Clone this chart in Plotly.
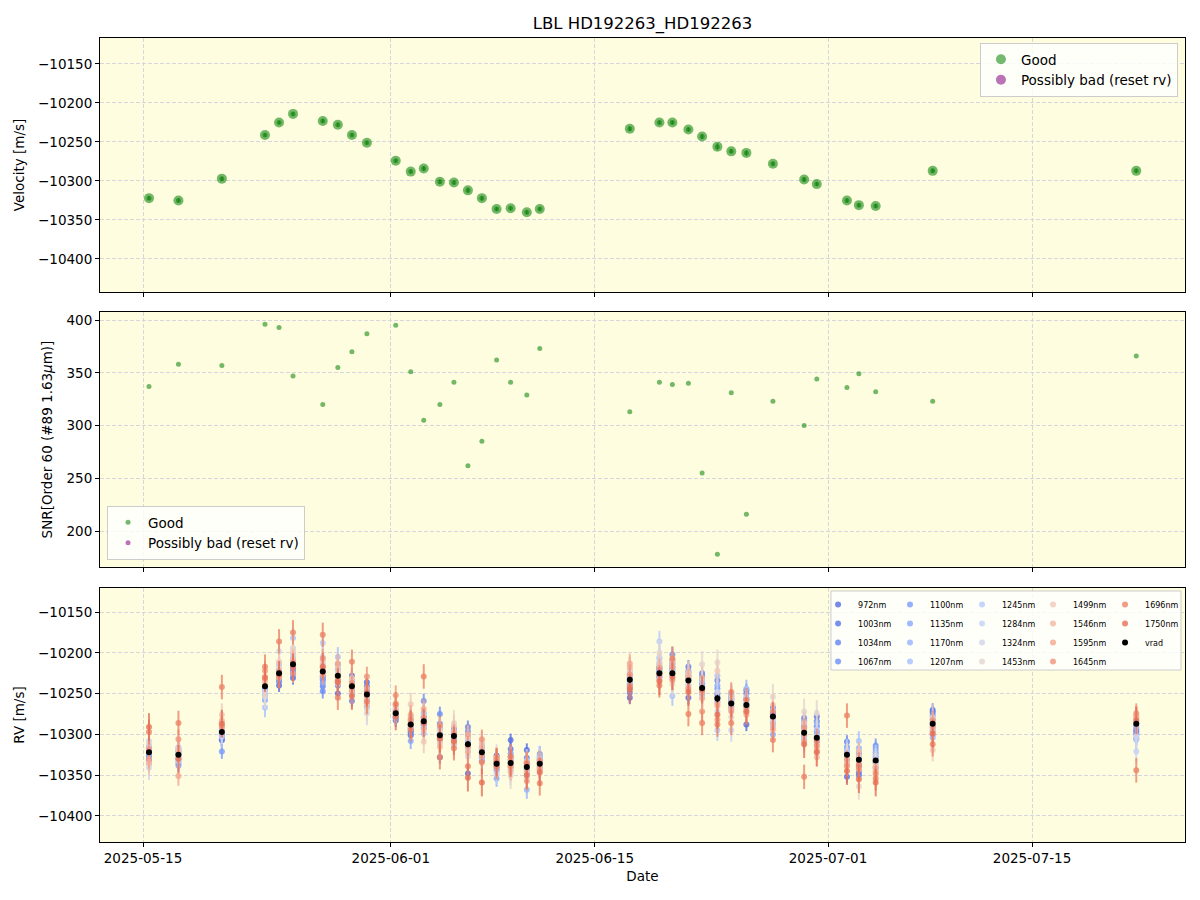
import plotly.graph_objects as go
from plotly.subplots import make_subplots

# ---------------- data ----------------
dates = ["2025-05-15 09:50", "2025-05-17 10:20", "2025-05-20 09:50", "2025-05-23 08:50",
         "2025-05-24 08:00", "2025-05-25 07:00", "2025-05-27 08:00", "2025-05-28 08:50",
         "2025-05-29 08:00", "2025-05-30 08:40", "2025-06-01 08:10", "2025-06-02 08:50",
         "2025-06-03 06:15", "2025-06-04 08:50", "2025-06-05 08:00", "2025-06-06 07:00",
         "2025-06-07 06:00", "2025-06-08 06:15", "2025-06-09 05:20", "2025-06-10 08:00",
         "2025-06-11 05:20", "2025-06-17 09:35", "2025-06-19 10:20", "2025-06-20 07:40",
         "2025-06-21 10:05", "2025-06-22 08:40", "2025-06-23 09:50", "2025-06-24 08:40",
         "2025-06-25 09:35", "2025-06-27 05:15", "2025-06-29 08:40", "2025-06-30 05:30",
         "2025-07-02 07:10", "2025-07-03 02:50", "2025-07-04 06:30", "2025-07-08 04:20",
         "2025-07-22 03:35"]

velocity = [-10322, -10325, -10297, -10241, -10225, -10214, -10223, -10228, -10241, -10251,
            -10274, -10288, -10284, -10301, -10302, -10312, -10322, -10336, -10335, -10340,
            -10336, -10233, -10225, -10225, -10234, -10243, -10256, -10262, -10264, -10278,
            -10298, -10304, -10325, -10331, -10332, -10287, -10287]
velocity_err = [2.5, 2.5, 2.5, 2.0, 2.0, 2.0, 2.5, 2.5, 2.0, 2.0,
                2.0, 2.5, 3.0, 3.0, 2.5, 3.5, 3.0, 2.5, 2.5, 2.5,
                2.0, 3.0, 2.5, 2.5, 2.5, 3.5, 4.5, 2.5, 3.5, 2.5,
                3.0, 2.5, 2.5, 2.5, 2.5, 2.5, 2.5]

snr = [337, 358, 357, 396, 393, 347, 320, 355, 370, 387,
       395, 351, 305, 320, 341, 262, 285, 362, 341, 329,
       373, 313, 341, 339, 340, 255, 178, 331, 216, 323,
       300, 344, 336, 349, 332, 323, 366]

band_names = ["972nm", "1003nm", "1034nm", "1067nm", "1100nm", "1135nm", "1170nm", "1207nm",
              "1245nm", "1284nm", "1324nm", "1453nm", "1499nm", "1546nm", "1595nm", "1645nm",
              "1696nm", "1750nm"]
band_err = [8, 8, 8, 9, 9, 10, 11, 12, 13, 14, 15, 16, 14, 12, 12, 12, 15, 17]

# per-band RV residuals relative to vrad [m/s]
d972 = [-8, 0, -8, -2, -15, -17, -6, -22, 13, 15, -9, -13, -4, -27, -2, -36, 4, 10, 28, 21, 2, -22, -4, 4, -21, 10, 6, -4, -24, 11, -4, 26, -27, -15, -9, 17, -18]
d1003 = [-4, 4, -10, -6, -10, -12, -10, -12, 6, 10, -6, -8, -8, -6, 4, -4, -6, 6, 17, 11, -4, -16, 6, 8, 17, 14, 2, 2, 18, 6, 6, 20, -6, -19, -2, 14, -12]
d1034 = [-10, -6, -10, -8, -6, -8, -18, -6, -18, 4, -4, -10, 6, 14, 8, 21, -10, -2, 8, 6, 6, -10, 2, 12, 10, 18, 22, 6, 14, 4, 18, 14, 16, -8, 4, 10, -8]
d1067 = [-6, -10, -4, -11, -4, -10, -24, 0, -6, -4, -2, -6, 25, 26, -6, 16, -4, -8, 4, -4, 12, -4, 8, 23, 6, 6, 12, 4, 8, -2, 10, 8, 8, 2, 18, 6, -10]
d1100 = [2, -13, -24, -17, -8, -5, -14, 8, 2, -15, 2, -4, -2, 8, 2, 10, 2, -4, 12, 2, 8, 2, 4, 16, 12, 4, -4, 8, 6, -8, 14, 4, 4, 8, 14, -4, -6]
d1135 = [8, 8, -5, -4, -2, -2, -8, 14, -4, -8, -6, -20, 10, 2, 10, 4, 8, -18, -4, -8, 4, 6, -6, -2, 2, -4, 16, 10, 2, -22, 2, -2, 10, 14, 10, -8, -4]
d1170 = [-2, -4, -2, -10, 4, 4, 0, -4, 8, -2, 4, -2, 4, -4, -10, -8, -2, 2, 2, -28, -6, -6, 12, 6, 4, -8, 0, -8, 20, 2, -8, 18, 2, 6, 8, -17, -2]
d1207 = [-14, 3, 2, -26, 10, 32, 6, 23, -10, 6, 0, 4, -15, 10, 6, 2, 6, -6, -8, 4, 10, 10, 18, -28, -6, 2, 28, 12, -4, -12, 8, -6, -4, 23, 2, -14, -14]
d1245 = [6, 7, -6, -14, 12, 8, 35, 6, 4, -6, 6, 10, 2, -10, 0, 6, -8, 4, -2, -2, -2, 4, 39, 10, 8, -12, -39, -2, 10, -6, -12, 10, 6, 12, 6, 2, -20]
d1284 = [14, -8, 4, -8, 6, 12, 18, 2, -7, -10, -2, 2, -6, -2, -4, -2, 4, -12, 6, 8, 6, -2, 20, 2, 0, 8, -16, -33, -2, 8, -6, 2, -10, -4, -4, -2, -34]
d1324 = [-19, 10, 0, -6, 27, 20, 10, -10, 0, -23, 8, -4, 8, 4, -12, -15, 10, 0, -12, -12, -8, 8, 14, -6, -4, 0, 8, 4, 4, -4, 4, -8, 0, -2, 0, -6, -16]
d1453 = [10, 6, 12, -12, 8, 18, 12, 4, 6, -18, 4, 6, 0, 6, 16, -6, 0, 8, -16, 0, 0, 12, 25, -13, -8, 29, 44, -17, 0, 24, 26, 30, -2, -33, -6, 8, 2]
d1499 = [-14, -2, 21, 2, 14, 14, 8, 10, 10, -12, 10, 25, -25, -8, 12, 8, 12, -2, -6, -6, -12, 14, 10, 0, 10, 12, 34, 8, -6, 14, 12, -12, -8, 4, -12, -32, 6]
d1546 = [-12, 4, 14, 6, -4, 6, 4, -2, -2, -4, 12, 8, -10, -14, 6, -10, 6, 6, -10, -2, -4, 16, -8, 14, 6, -13, -6, -6, -9, -10, -2, -24, -14, 10, -8, -10, 10]
d1595 = [-8, -26, 8, 12, -6, -11, -4, 15, -6, 8, 2, 12, 15, -2, -8, 12, -4, 4, 4, 6, -6, 20, 6, 8, 2, -6, -9, -10, -12, -16, -10, -16, -6, -12, -14, -4, 8]
d1645 = [4, 19, 6, 19, 2, 2, 16, -6, 4, 22, 22, 6, 4, 12, 2, -2, 16, 8, -4, -17, 4, 6, -2, -8, -10, -29, -26, 14, -2, 6, 6, -10, -13, -10, -17, 4, 13]
d1696 = [25, 39, 55, 24, 39, 39, 45, -27, 30, -9, 11, -6, 55, -27, -15, -27, -12, -4, 8, 4, -24, -8, -15, 18, -41, -43, -32, -24, 6, -29, -54, -4, 48, -6, -22, -25, -57]
d1750 = [31, -5, 10, 10, -2, -4, 6, -8, -12, 2, -4, 0, -2, -4, -6, -41, -37, 2, 0, -10, -10, -12, -10, -4, -14, -2, -20, 0, -8, 0, -14, -18, -20, -24, -27, -12, 4]

band_resid = [d972, d1003, d1034, d1067, d1100, d1135, d1170, d1207, d1245, d1284,
              d1324, d1453, d1499, d1546, d1595, d1645, d1696, d1750]
for r in band_resid:
    assert len(r) == len(dates)

x_ticks = ["2025-05-15", "2025-06-01", "2025-06-15", "2025-07-01", "2025-07-15"]
rv_ticks = [-10400, -10350, -10300, -10250, -10200, -10150]
snr_ticks = [200, 250, 300, 350, 400]

# ---------------- styles ----------------
FONT = "DejaVu Sans"
BG = (255, 253, 224)
band_look = [(118, 138, 228), (122, 144, 231), (130, 155, 238), (138, 165, 243), (148, 175, 247),
             (158, 184, 250), (170, 195, 251), (184, 205, 250), (197, 213, 246), (208, 219, 241),
             (218, 221, 232), (233, 220, 210), (242, 211, 192), (245, 198, 176), (245, 185, 158),
             (243, 170, 142), (240, 156, 128), (235, 140, 114)]
ALPHA = 0.8


def rgba(c, a):
    base = [max(0, min(255, round((c[i] - (1 - a) * BG[i]) / a))) for i in range(3)]
    return f"rgba({base[0]},{base[1]},{base[2]},{a})"


fig = make_subplots(rows=3, cols=1, shared_xaxes=True)

# ---- panel 1: velocity ----
fig.add_trace(go.Scatter(
    x=dates, y=velocity, mode="markers", name="Good", legend="legend",
    marker=dict(size=10, color="rgba(0,128,0,0.55)", line=dict(width=0)),
    error_y=dict(type="data", array=velocity_err, color="rgba(0,128,0,0.55)", thickness=1.5, width=0),
), row=1, col=1)
fig.add_trace(go.Scatter(
    x=dates, y=velocity, mode="markers", showlegend=False, hoverinfo="skip",
    marker=dict(size=5, color="rgba(0,120,0,0.5)", line=dict(width=0)),
), row=1, col=1)
fig.add_trace(go.Scatter(
    x=[None], y=[None], mode="markers", name="Possibly bad (reset rv)", legend="legend",
    marker=dict(size=10, color="rgba(128,0,128,0.55)", line=dict(width=0)),
), row=1, col=1)

# ---- panel 2: SNR ----
fig.add_trace(go.Scatter(
    x=dates, y=snr, mode="markers", name="Good", legend="legend2",
    marker=dict(size=5, color="rgba(0,128,0,0.55)", line=dict(width=0)),
), row=2, col=1)
fig.add_trace(go.Scatter(
    x=[None], y=[None], mode="markers", name="Possibly bad (reset rv)", legend="legend2",
    marker=dict(size=5, color="rgba(128,0,128,0.55)", line=dict(width=0)),
), row=2, col=1)

# ---- panel 3: per-band RV ----
columns = ["legend3", "legend4", "legend5", "legend6", "legend7"]
for k, (name, resid) in enumerate(zip(band_names, band_resid)):
    yvals = [v + d for v, d in zip(velocity, resid)]
    col = rgba(band_look[k], ALPHA)
    fig.add_trace(go.Scatter(
        x=dates, y=yvals, mode="markers", name=name, legend=columns[k // 4],
        marker=dict(size=6, color=col, line=dict(width=0)),
        error_y=dict(type="data", array=[band_err[k]] * len(dates), color=col, thickness=2, width=0),
    ), row=3, col=1)

fig.add_trace(go.Scatter(
    x=dates, y=velocity, mode="markers", name="vrad", legend="legend7",
    marker=dict(size=6, color="black", line=dict(width=0)),
    error_y=dict(type="data", array=velocity_err, color="black", thickness=1.5, width=0),
), row=3, col=1)

# ---------------- layout ----------------
axis_common = dict(
    showline=True, linecolor="black", linewidth=1, mirror=True,
    ticks="outside", ticklen=4, tickcolor="black",
    showgrid=True, gridcolor="#d6d6dc", griddash="4px,2px", gridwidth=1,
    zeroline=False, tickfont=dict(family=FONT, size=13.5, color="black"),
)
fig.update_xaxes(**axis_common)
fig.update_yaxes(**axis_common)

fig.update_xaxes(range=["2025-05-12 01:10", "2025-07-25 11:50"], tickvals=x_ticks,
                 tickformat="%Y-%m-%d")
fig.update_xaxes(title=dict(text="Date", font=dict(family=FONT, size=13.5, color="black"), standoff=6),
                 row=3, col=1)

ytitle_font = dict(family=FONT, size=13.5, color="black")
fig.update_layout(
    yaxis=dict(domain=[0.6841, 1.0], range=[-10442.3, -10116.7],
               tickvals=rv_ticks, tickformat="d",
               title=dict(text="Velocity [m/s]", font=ytitle_font, standoff=10)),
    yaxis2=dict(domain=[0.342, 0.6592], range=[165.9, 407.6],
                tickvals=snr_ticks, tickformat="d",
                title=dict(text="SNR[Order 60 (#89 1.63<i>μ</i>m)]", font=ytitle_font, standoff=10)),
    yaxis3=dict(domain=[0.0, 0.3159], range=[-10431.9, -10120.6],
                tickvals=rv_ticks, tickformat="d",
                title=dict(text="RV [m/s]", font=ytitle_font, standoff=10)),
)

big_leg = dict(font=dict(family=FONT, size=13.5, color="black"),
               bgcolor="rgba(255,255,255,0.8)", bordercolor="#cccccc", borderwidth=1)
small_leg = dict(font=dict(family=FONT, size=8, color="black"), bgcolor="rgba(0,0,0,0)",
                 borderwidth=0, xanchor="left", yanchor="top", y=0.3134, tracegroupgap=0)
col_x = [0.6618, 0.7281, 0.7945, 0.8599, 0.9263]

fig.update_layout(
    width=1200, height=900,
    margin=dict(l=100, r=15, t=38, b=58),
    paper_bgcolor="white", plot_bgcolor="#fefde0",
    font=dict(family=FONT, color="black"),
    title=dict(text="LBL HD192263_HD192263", x=0.5, xref="paper", xanchor="center",
               y=1 - 23 / 900, yref="container", yanchor="middle",
               font=dict(family=FONT, size=16.5, color="black")),
    legend=dict(x=0.9935, y=0.9938, xanchor="right", yanchor="top", **big_leg),
    legend2=dict(x=0.0065, y=0.3507, xanchor="left", yanchor="bottom", **big_leg),
    legend3=dict(x=col_x[0], **small_leg),
    legend4=dict(x=col_x[1], **small_leg),
    legend5=dict(x=col_x[2], **small_leg),
    legend6=dict(x=col_x[3], **small_leg),
    legend7=dict(x=col_x[4], **small_leg),
    shapes=[dict(type="rect", xref="paper", yref="paper", x0=0.6737, x1=0.9963,
                 y0=0.2139, y1=0.3122, fillcolor="rgba(255,255,255,0.8)",
                 line=dict(color="#cccccc", width=1), layer="above")],
)

fig.write_html("out.html")
